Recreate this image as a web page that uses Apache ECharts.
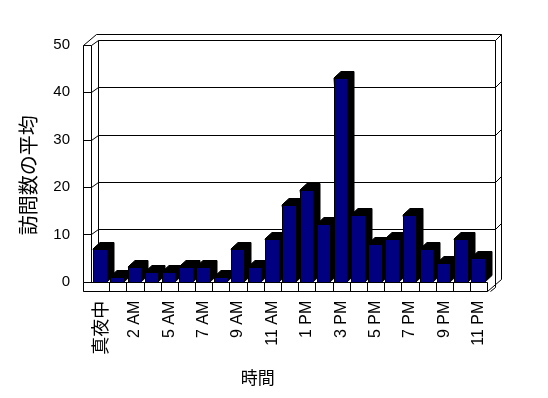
<!DOCTYPE html>
<html>
<head>
<meta charset="utf-8">
<script src="https://cdn.jsdelivr.net/npm/echarts@6/dist/echarts.min.js"></script>
<style>html,body{margin:0;padding:0;background:#fff}#c{width:548px;height:398px}</style>
</head>
<body>
<div id="c"></div>
<script>
var categories = ['真夜中','1 AM','2 AM','4 AM','5 AM','6 AM','7 AM','8 AM','9 AM','10 AM','11 AM','正午','1 PM','2 PM','3 PM','4 PM','5 PM','6 PM','7 PM','8 PM','9 PM','10 PM','11 PM'];
var visits = [7, 0.9, 3, 2, 2, 3, 3, 0.9, 7, 3, 9, 16.2, 19.4, 12.2, 43.1, 14, 8, 9, 14, 7, 4, 9, 5];
var yTicks = [0, 10, 20, 30, 40, 50];
var yName = '訪問数の平均';
var xName = '時間';

var latin = "'Liberation Sans', Arial, 'Noto Sans CJK JP', sans-serif";
var cjk = "'Noto Sans CJK JP', 'Liberation Sans', sans-serif";
function p(v){ return Math.round(v) + 0.5; }
function ln(x1,y1,x2,y2){ return {type:'line', shape:{x1:x1,y1:y1,x2:x2,y2:y2}, style:{stroke:'#000', lineWidth:1}}; }

var chart = echarts.init(document.getElementById('c'), null, {renderer:'canvas'});

var catData = categories.map(function(c){
  return /[^\x00-\x7f]/.test(c) ? {value:c, textStyle:{fontFamily:cjk, fontSize:18}} : c;
});

var DX = 7.5, DY = 5, SX = 5.7, SY = 6;

chart.setOption({
  animation:false,
  grid:{left:92, top:45, width:395.3, height:236.7},
  xAxis:{
    type:'category', data:catData,
    axisLine:{show:false}, axisTick:{show:false}, splitLine:{show:false},
    axisLabel:{rotate:90, interval:1, margin:19, color:'#000', fontSize:16, fontFamily:latin},
    name:xName, nameLocation:'middle', nameGap:87,
    nameTextStyle:{color:'#000', fontSize:17, fontFamily:cjk, padding:[0, 64, 0, 0]}
  },
  yAxis:{
    type:'value', min:0, max:50, interval:10,
    axisLine:{show:false}, axisTick:{show:false}, splitLine:{show:false},
    axisLabel:{margin:22, color:'#000', fontSize:15, fontFamily:latin},
    name:yName, nameLocation:'middle', nameGap:54, nameRotate:90,
    nameTextStyle:{color:'#000', fontSize:20, fontFamily:cjk, padding:[0, 24, 0, 0]}
  },
  series:[
    {
      type:'custom', clip:false, z:1,
      data: yTicks.map(function(v){ return [0, v]; }),
      encode:{x:0, y:1},
      renderItem:function(params, api){
        var cs = params.coordSys;
        var v = api.value(1);
        var Y = api.coord([0, v])[1];
        var L0 = cs.x - 8.7, L1 = cs.x - 1.5;
        var BL = L1 + DX, BR = cs.x + cs.width + DX;
        var kids = [];
        var y = p(Y), yb = p(Y - DY);
        if (v > 0) {
          kids.push(ln(p(L0), y, p(L1), y));
          kids.push(ln(p(L1), y, p(BL), yb));
          kids.push(ln(p(BL), yb, p(BR), yb));
          kids.push(ln(p(BR), yb, p(BR + SX), p(Y - DY - SY)));
        }
        if (params.dataIndexInside === 0) {
          var top = api.coord([0, yTicks[yTicks.length - 1]])[1];
          var bot = cs.y + cs.height;
          var fb = bot + 8.8;
          var outerTop = top - DY - SY;
          kids.push(ln(p(BL), p(top - DY), p(BL), p(bot - DY)));
          kids.push(ln(p(BR), p(top - DY), p(BR), p(bot + 5)));
          kids.push(ln(p(BR + SX), p(outerTop), p(BR + SX), p(bot - 2.5)));
          kids.push(ln(p(L0 + 12.7), p(outerTop), p(BR + SX), p(outerTop)));
          kids.push(ln(p(L0), p(top), p(L0 + 12.7), p(outerTop)));
          kids.push(ln(p(L0), p(top), p(L0), p(fb)));
          kids.push(ln(p(L1), p(top), p(L1), p(bot)));
          var FR = cs.x + cs.width;
          kids.push({type:'rect', shape:{x:p(L0), y:p(bot), width:Math.round(FR) - Math.round(L0), height:Math.round(fb) - Math.round(bot)}, style:{fill:'#fff', stroke:'#000', lineWidth:1}});
          var band = api.size([1, 0])[0];
          for (var k = 1; k < categories.length; k++) {
            var cx = api.coord([k, 0])[0] - band / 2;
            kids.push(ln(p(cx), p(bot), p(cx), p(fb)));
          }
          kids.push(ln(p(FR), p(fb), p(BR + SX), p(bot - 2.5)));
          kids.push(ln(p(BR), p(bot + 5), p(FR + 3), p(fb)));
        }
        return {type:'group', children:kids};
      },
      silent:true
    },
    {
      type:'custom', clip:false, z:2,
      data: visits.map(function(v, i){ return [i, v]; }),
      encode:{x:0, y:1},
      renderItem:function(params, api){
        var i = api.value(0), v = api.value(1);
        var band = api.size([1, 0])[0];
        var c = api.coord([i, v]);
        var b = api.coord([i, 0]);
        var x1 = Math.round(c[0] - band / 2 + 1.3), x2 = Math.round(c[0] - band / 2 + 14.7);
        var yt = Math.round(c[1]), yb = Math.round(b[1]);
        var dx = 7, dy = 6.5;
        return {type:'group', children:[
          {type:'polygon', shape:{points:[[x1, yt], [x1 + 2, yt - 2], [x1 + dx, yt - dy], [x2 + dx, yt - dy], [x2 + dx, yb - dy], [x2, yb]]}, style:{fill:'#000', stroke:'#000', lineWidth:1}},
          {type:'rect', shape:{x:x1 + 0.5, y:yt + 0.5, width:x2 - x1, height:yb - yt}, style:{fill:'#000080', stroke:'#000', lineWidth:1}}
        ]};
      }
    }
  ]
});
</script>
</body>
</html>
